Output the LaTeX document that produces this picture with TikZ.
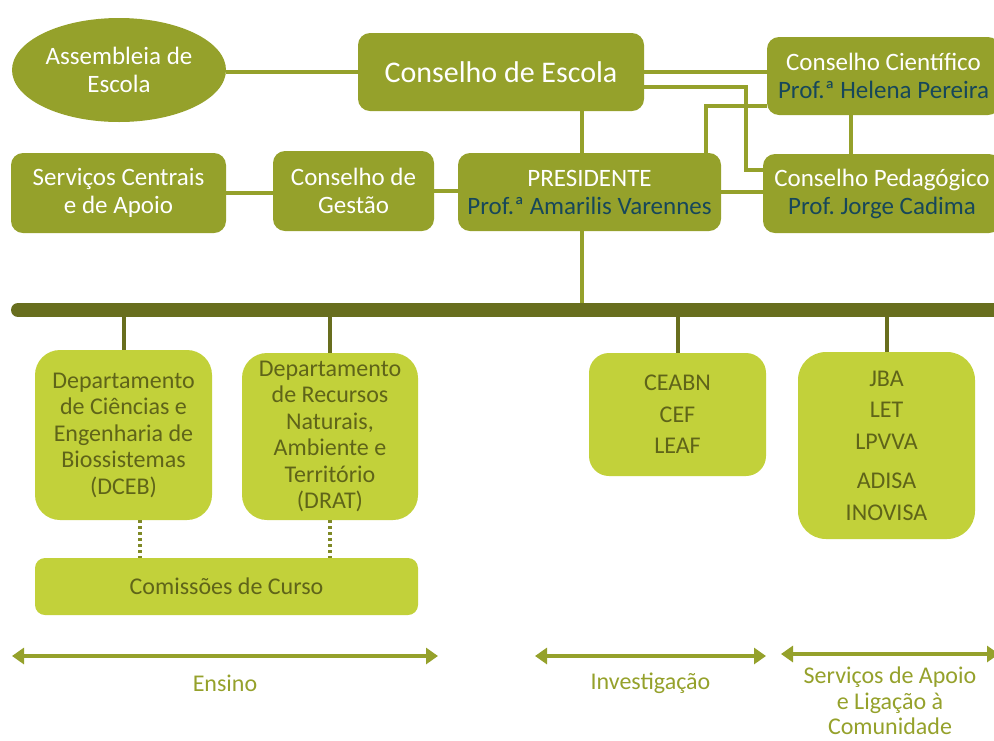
\documentclass[tikz,border=0pt]{standalone}
\usepackage{fontspec}
\setmainfont{Carlito}
\usepackage{xcolor}
\usetikzlibrary{shapes,arrows.meta}
\definecolor{esaolive}{RGB}{149,161,43}
\definecolor{esalime}{RGB}{194,209,58}
\definecolor{esabar}{RGB}{104,110,30}
\definecolor{esanavy}{RGB}{23,71,90}
\definecolor{esatext}{RGB}{95,100,25}
\tikzstyle{topbox}=[fill=esaolive, rounded corners=12pt, text=white, align=center, inner sep=0pt, font=\fontsize{25}{28}\selectfont]
\tikzstyle{unitbox}=[fill=esalime, rounded corners=25pt, text=esatext, align=center, inner sep=0pt, font=\fontsize{24}{26.5}\selectfont]
\tikzstyle{link}=[draw=esaolive, line width=4pt]
\tikzstyle{drop}=[draw=esabar, line width=4pt]
\tikzstyle{dots}=[draw=esaolive!85!black, line width=4pt, dash pattern=on 3pt off 3pt]
\tikzstyle{span}=[draw=esaolive, line width=4pt, {Triangle[width=16pt,length=12pt]}-{Triangle[width=16pt,length=12pt]}]
\tikzstyle{spanlabel}=[text=esaolive, align=center, font=\fontsize{24}{26.5}\selectfont]

\begin{document}
\begin{tikzpicture}[x=1pt,y=-1pt]
	\clip (0,0) rectangle (994,740);
	
	% orgaos de governo
	\node [ellipse, topbox, minimum width=214pt, minimum height=104pt] (assembleia) at (119,70) {Assembleia de\\Escola};
	\node [topbox, minimum width=286pt, minimum height=78pt, font=\fontsize{30}{34}\selectfont] (escola) at (501,72) {Conselho de Escola};
	\node [topbox, minimum width=233pt, minimum height=78pt] (cientifico) at (883.5,76) {Conselho Científico\\\textcolor{esanavy}{Prof.ª Helena Pereira}};
	\node [topbox, minimum width=215pt, minimum height=80pt] (servicos) at (118.5,193) {Serviços Centrais\\e de Apoio};
	\node [topbox, minimum width=161pt, minimum height=80pt] (gestao) at (353.5,191) {Conselho de\\Gestão};
	\node [topbox, minimum width=263pt, minimum height=78pt] (presidente) at (589.5,192) {PRESIDENTE\\\textcolor{esanavy}{Prof.ª Amarilis Varennes}};
	\node [topbox, minimum width=238pt, minimum height=79pt] (pedagogico) at (882,193.5) {Conselho Pedagógico\\\textcolor{esanavy}{Prof.\ Jorge Cadima}};
	
	\coordinate (spine) at (582,0);
	\coordinate (barL) at (18,310);
	\coordinate (barR) at (1000,310);
	
	\draw[link] (escola.west -| assembleia.east) -- (escola.west);
	\draw[link] (escola.east) -- (escola.east -| cientifico.west);
	\draw[link] ([yshift=-15pt]escola.east) -| ++(102,0) |- ([yshift=24pt]pedagogico.west);
	\draw[link] ([xshift=116.5pt]presidente.north) |- ([yshift=-30pt]cientifico.west);
	\draw[link] ([xshift=-33pt]cientifico.south) -- ([xshift=-33pt]cientifico.south |- pedagogico.north);
	\draw[link] (presidente.east) -- (presidente.east -| pedagogico.west);
	\draw[link] (escola.south -| spine) -- (presidente.north -| spine);
	\draw[link] (servicos.east) -- (servicos.east -| gestao.west);
	\draw[link] (gestao.east) -- (gestao.east -| presidente.west);
	\draw[link] (presidente.south -| spine) -- (spine |- barL);
	
	\draw[esabar, line width=14pt, line cap=round] (barL) -- (barR);
	
	% unidades
	\node [unitbox, minimum width=177pt, minimum height=170pt] (dceb) at (123.5,435) {Departamento\\de Ciências e\\Engenharia de\\Biossistemas\\(DCEB)};
	\node [unitbox, minimum width=176pt, minimum height=167pt] (drat) at (330,436.5) {Departamento\\de Recursos\\Naturais,\\Ambiente e\\Território\\(DRAT)};
	\node [unitbox, minimum width=383pt, minimum height=57pt, rounded corners=10pt] (comissoes) at (226.5,586.5) {Comissões de Curso};
	\node [unitbox, minimum width=177pt, minimum height=123pt, rounded corners=20pt, font=\fontsize{24}{31.5}\selectfont] (centros) at (677.5,414.5) {CEABN\\CEF\\LEAF};
	\node [unitbox, minimum width=177pt, minimum height=187pt, rounded corners=28pt, font=\fontsize{24}{31.5}\selectfont] (apoio) at (886.5,445.5) {JBA\\LET\\LPVVA\\[8pt]ADISA\\INOVISA};
	
	\draw[drop] (dceb.north) -- (dceb.north |- barL);
	\draw[drop] (drat.north) -- (drat.north |- barL);
	\draw[drop] (centros.north) -- (centros.north |- barL);
	\draw[drop] (apoio.north) -- (apoio.north |- barL);
	
	\draw[dots] ([xshift=16.5pt]dceb.south) -- ([xshift=16.5pt]dceb.south |- comissoes.north);
	\draw[dots] (drat.south) -- (drat.south |- comissoes.north);
	
	% areas
	\coordinate (ensL) at (12,656);
	\coordinate (ensR) at (438,656);
	\coordinate (invL) at (535,656);
	\coordinate (invR) at (766,656);
	\coordinate (serL) at (781,654);
	\coordinate (serR) at (999,654);
	\draw[span] (ensL) -- (ensR) node [spanlabel, midway, yshift=-27pt] (ensino) {Ensino};
	\draw[span] (invL) -- (invR) node [spanlabel, midway, yshift=-27pt] (investigacao) {Investigação};
	\draw[span] (serL) -- (serR) node [spanlabel, midway, yshift=-47pt, font=\fontsize{24}{25.5}\selectfont] (ligacao) {Serviços de Apoio\\e Ligação à\\Comunidade};
\end{tikzpicture}
\end{document}
